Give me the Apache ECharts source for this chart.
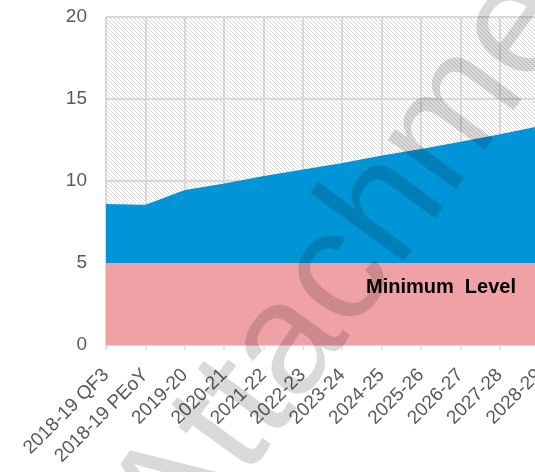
<!DOCTYPE html>
<html>
<head>
<meta charset="utf-8">
<style>
  html, body { margin: 0; padding: 0; background: #ffffff; }
  #chart { width: 535px; height: 472px; }
</style>
<script src="https://cdn.jsdelivr.net/npm/echarts@6/dist/echarts.min.js"></script>
</head>
<body>
<div id="chart"></div>
<script>
// Forecast periods along the horizontal axis
const categories = ['2018-19 QF3', '2018-19 PEoY', '2019-20', '2020-21', '2021-22', '2022-23',
                    '2023-24', '2024-25', '2025-26', '2026-27', '2027-28', '2028-29'];
// Minimum level held in every period
const minimumLevel = [5, 5, 5, 5, 5, 5, 5, 5, 5, 5, 5, 5];
// Projected total balance per period
const totalLevel = [8.6, 8.55, 9.45, 9.85, 10.3, 10.7, 11.1, 11.55, 11.95, 12.4, 12.85, 13.35];
// Value axis ticks
const yMin = 0, yMax = 20, yStep = 5;

// Stacked layers: minimum, amount above minimum, and remaining headroom to the top of the axis
const aboveMinimum = totalLevel.map((v, i) => +(v - minimumLevel[i]).toFixed(3));
const headroom = totalLevel.map(v => +(yMax - v).toFixed(3));

// Diagonal hatch tile for the headroom area
const tile = document.createElement('canvas');
tile.width = 4; tile.height = 4;
const tctx = tile.getContext('2d');
tctx.strokeStyle = '#d6d6d6';
tctx.lineWidth = 1;
tctx.beginPath();
for (const k of [-1, 0, 1]) {
  tctx.moveTo(k * 4, 0);
  tctx.lineTo(k * 4 + 4, 4);
}
tctx.stroke();

const gridColor = '#d9d9d9';
const labelColor = '#595959';
const fontFamily = '"Liberation Sans", Arial, sans-serif';

const chart = echarts.init(document.getElementById('chart'), null, { renderer: 'canvas' });

const areaSeries = (name, data, fill) => ({
  name,
  type: 'line',
  stack: 'total',
  data,
  symbol: 'none',
  lineStyle: { width: 0 },
  areaStyle: { color: fill, opacity: 1 },
  emphasis: { disabled: true },
  silent: true
});

chart.setOption({
  animation: false,
  grid: {
    left: 106, right: -4, top: 17, bottom: 127,
    containLabel: false,
    outerBoundsMode: 'none'
  },
  xAxis: {
    type: 'category',
    data: categories,
    boundaryGap: false,
    axisLine: { show: true, lineStyle: { color: gridColor, width: 2 } },
    axisTick: { show: true, length: 5, lineStyle: { color: gridColor, width: 1.5 } },
    axisLabel: {
      rotate: 45,
      margin: 27,
      interval: 0,
      color: labelColor,
      fontSize: 19,
      fontFamily
    },
    splitLine: { show: true, lineStyle: { color: gridColor, width: 2 } }
  },
  yAxis: {
    type: 'value',
    min: yMin,
    max: yMax,
    interval: yStep,
    axisLine: { show: false },
    axisTick: { show: false },
    axisLabel: { margin: 19, color: labelColor, fontSize: 19, fontFamily },
    splitLine: { show: true, lineStyle: { color: gridColor, width: 2 } }
  },
  series: [
    areaSeries('Minimum Level', minimumLevel, '#f0a1a6'),
    areaSeries('Above minimum', aboveMinimum, '#0095d6'),
    areaSeries('Headroom', headroom, { image: tile, repeat: 'repeat' })
  ],
  graphic: [
    {
      type: 'text',
      x: 441,
      y: 287,
      z: 50,
      silent: true,
      style: {
        text: 'Minimum  Level',
        font: 'bold 20px ' + fontFamily,
        fill: '#000000',
        textAlign: 'center',
        textVerticalAlign: 'middle',
        align: 'center',
        verticalAlign: 'middle'
      }
    },
    {
      type: 'text',
      x: 385,
      y: 212,
      z: 100,
      rotation: 54 * Math.PI / 180,
      silent: true,
      style: {
        text: 'Attachment',
        font: '160px ' + fontFamily,
        fill: 'rgba(0,0,0,0.15)',
        textAlign: 'center',
        textVerticalAlign: 'middle',
        align: 'center',
        verticalAlign: 'middle'
      }
    }
  ]
});
</script>
</body>
</html>
